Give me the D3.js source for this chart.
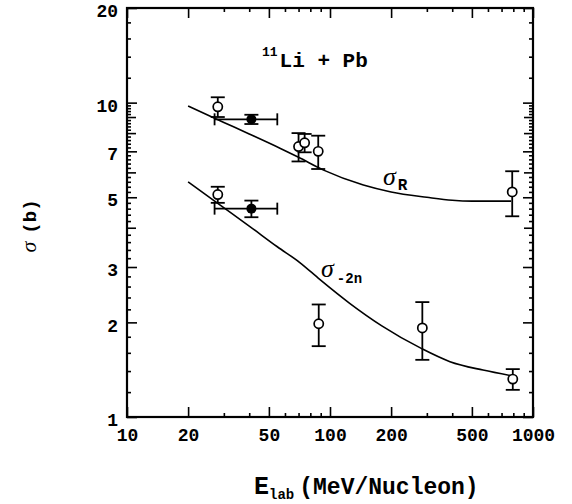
<!DOCTYPE html>
<html>
<head>
<meta charset="utf-8">
<script src="https://cdn.jsdelivr.net/npm/d3@7"></script>
<style>
body { margin: 0; background: #fff; }
svg text { font-family: "Liberation Mono", "Courier New", monospace; font-weight: bold; fill: #000; }
.greek { font-family: "Liberation Serif", "DejaVu Serif", serif; font-style: italic; font-weight: normal; }
</style>
</head>
<body>
<div id="chart"></div>
<script>
// energies in MeV/nucleon, cross sections in barn
const xMajor = [10, 20, 50, 100, 200, 500, 1000];
const xMinor = [30, 40, 60, 70, 80, 90, 300, 400, 600, 700, 800, 900];
const yMajor = [1, 2, 3, 5, 7, 10, 20];
const yMid = [4, 6, 8, 9];

// open circles: [E, sigma, error]
const openR = [[28, 9.7, 0.7], [70, 7.25, 0.75], [75, 7.45, 0.5], [87.5, 7.0, 0.85], [790, 5.2, 0.85]];
const open2n = [[28, 5.1, 0.3], [88, 1.98, 0.3], [285, 1.92, 0.4], [795, 1.32, 0.1]];
// filled circles: [E, sigma, error, Elow, Ehigh]
const filled = [[41, 8.85, 0.3, 27, 55], [41, 4.6, 0.28, 27, 55]];

// calculated curves
const curveR = [[20, 9.75], [30, 8.65], [40, 7.95], [57, 7.15], [70, 6.7], [93, 6.1], [146, 5.47],
  [200, 5.2], [300, 5.0], [400, 4.89], [500, 4.86], [780, 4.86]];
const curve2n = [[20, 5.6], [28, 4.78], [40, 4.05], [55, 3.48], [71, 3.1], [89, 2.74], [125, 2.3],
  [180, 1.95], [283, 1.65], [390, 1.5], [567, 1.41], [797, 1.35]];

const W = 572, H = 504;
const svg = d3.select('#chart').append('svg').attr('width', W).attr('height', H);

const x = d3.scaleLog().domain([10, 1000]).range([127, 533]);
const y = d3.scaleLog().domain([1, 20]).range([417, 8]);

// minor y ticks every 0.2 of a decade
const yMinor = d3.range(1.2, 10, 0.2).concat(d3.range(12, 20, 2))
  .map(v => +v.toFixed(1))
  .filter(v => !yMajor.includes(v) && !yMid.includes(v));

function drawAxis(axisFn, pos, values, len, labelled, pad) {
  const a = axisFn(axisFn === d3.axisBottom || axisFn === d3.axisTop ? x : y)
    .tickValues(values)
    .tickSizeInner(-len)
    .tickSizeOuter(0)
    .tickPadding(pad || 0)
    .tickFormat(labelled ? d3.format('d') : '');
  const g = svg.append('g').attr('transform', pos).call(a);
  g.select('.domain').remove();
  g.selectAll('line').attr('stroke', '#000').attr('stroke-width', 1.6);
  g.selectAll('text').attr('font-size', 18).attr('font-family', null);
  return g;
}

// bottom / top
drawAxis(d3.axisBottom, 'translate(0,417)', xMajor, 10, true, 11);
drawAxis(d3.axisBottom, 'translate(0,417)', xMinor, 4, false);
drawAxis(d3.axisTop, 'translate(0,8)', xMajor, 10, false);
drawAxis(d3.axisTop, 'translate(0,8)', xMinor, 4, false);
// left / right
const yl = drawAxis(d3.axisLeft, 'translate(127,0)', yMajor, 10, true, 9);
yl.selectAll('text').attr('dy', '0.48em');
drawAxis(d3.axisLeft, 'translate(127,0)', yMid, 9, false);
drawAxis(d3.axisLeft, 'translate(127,0)', yMinor, 4, false);
drawAxis(d3.axisRight, 'translate(533,0)', yMajor, 10, false);
drawAxis(d3.axisRight, 'translate(533,0)', yMid, 9, false);
drawAxis(d3.axisRight, 'translate(533,0)', yMinor, 4, false);

// frame
svg.append('rect')
  .attr('x', x(10)).attr('y', y(20))
  .attr('width', x(1000) - x(10)).attr('height', y(1) - y(20))
  .attr('fill', 'none').attr('stroke', '#000').attr('stroke-width', 2.2);

// curves
const line = d3.line().x(d => x(d[0])).y(d => y(d[1])).curve(d3.curveMonotoneX);
svg.selectAll('.curve').data([curveR, curve2n]).enter().append('path')
  .attr('class', 'curve')
  .attr('d', line)
  .attr('fill', 'none').attr('stroke', '#000').attr('stroke-width', 1.6);

// error bars
const allPts = openR.concat(open2n).concat(filled);
const eb = svg.append('g').attr('stroke', '#000').attr('stroke-width', 1.8);
eb.selectAll('.vbar').data(allPts).enter().append('line')
  .attr('x1', d => x(d[0])).attr('x2', d => x(d[0]))
  .attr('y1', d => y(d[1] + d[2])).attr('y2', d => y(d[1] - d[2]));
eb.selectAll('.vcapT').data(allPts).enter().append('line')
  .attr('x1', d => x(d[0]) - 7).attr('x2', d => x(d[0]) + 7)
  .attr('y1', d => y(d[1] + d[2])).attr('y2', d => y(d[1] + d[2]));
eb.selectAll('.vcapB').data(allPts).enter().append('line')
  .attr('x1', d => x(d[0]) - 7).attr('x2', d => x(d[0]) + 7)
  .attr('y1', d => y(d[1] - d[2])).attr('y2', d => y(d[1] - d[2]));
eb.selectAll('.hbar').data(filled).enter().append('line')
  .attr('x1', d => x(d[3])).attr('x2', d => x(d[4]))
  .attr('y1', d => y(d[1])).attr('y2', d => y(d[1]));
eb.selectAll('.hcapL').data(filled).enter().append('line')
  .attr('x1', d => x(d[3])).attr('x2', d => x(d[3]))
  .attr('y1', d => y(d[1]) - 6).attr('y2', d => y(d[1]) + 6);
eb.selectAll('.hcapR').data(filled).enter().append('line')
  .attr('x1', d => x(d[4])).attr('x2', d => x(d[4]))
  .attr('y1', d => y(d[1]) - 6).attr('y2', d => y(d[1]) + 6);

// points
svg.selectAll('.open').data(openR.concat(open2n)).enter().append('circle')
  .attr('cx', d => x(d[0])).attr('cy', d => y(d[1])).attr('r', 4.6)
  .attr('fill', '#fff').attr('stroke', '#000').attr('stroke-width', 1.7);
svg.selectAll('.full').data(filled).enter().append('circle')
  .attr('cx', d => x(d[0])).attr('cy', d => y(d[1])).attr('r', 5)
  .attr('fill', '#000');

// annotations
const t1 = svg.append('text').attr('x', 262).attr('y', 67).attr('font-size', 21);
t1.append('tspan').attr('font-size', 13).attr('dy', -11).text('11');
t1.append('tspan').attr('dy', 11).attr('dx', 2).text('Li + Pb');

const sR = svg.append('text').attr('x', 383).attr('y', 185);
sR.append('tspan').attr('class', 'greek').attr('font-size', 26).text('σ');
sR.append('tspan').attr('font-size', 16).attr('dy', 5).attr('dx', 2).text('R');

const s2 = svg.append('text').attr('x', 321).attr('y', 277);
s2.append('tspan').attr('class', 'greek').attr('font-size', 26).text('σ');
s2.append('tspan').attr('font-size', 14).attr('dy', 6).attr('dx', 3).text('-2n');

// axis titles
const xt = svg.append('text').attr('x', 254).attr('y', 494).attr('font-size', 23);
xt.append('tspan').attr('font-size', 25).text('E');
xt.append('tspan').attr('font-size', 14).attr('dy', 5).text('lab');
xt.append('tspan').attr('dy', -5).attr('dx', 5).text('(MeV/Nucleon)');

const yt = svg.append('text').attr('transform', 'translate(36,226) rotate(-90)')
  .attr('text-anchor', 'middle').attr('font-size', 19);
yt.append('tspan').attr('class', 'greek').attr('font-size', 22).text('σ');
yt.append('tspan').attr('dx', 8).text('(b)');
</script>
</body>
</html>
